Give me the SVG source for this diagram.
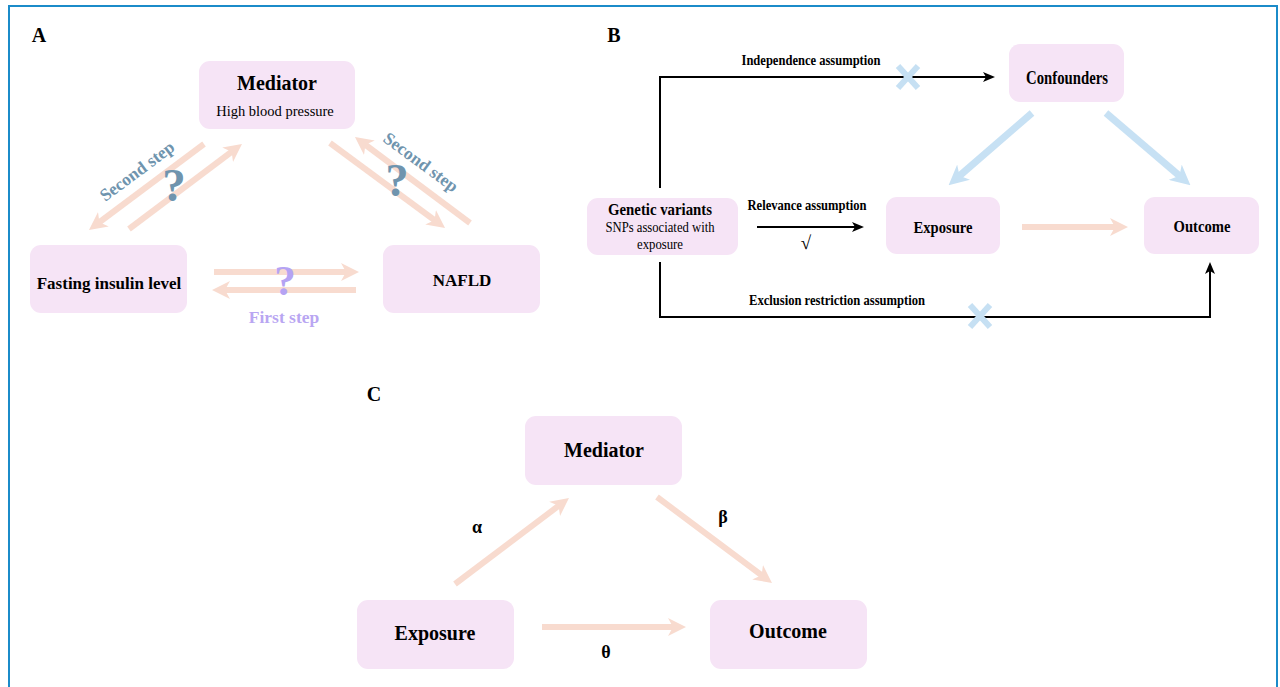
<svg xmlns="http://www.w3.org/2000/svg" width="1280" height="687" viewBox="0 0 1280 687">
<defs>
<marker id="hp" markerUnits="userSpaceOnUse" markerWidth="18" markerHeight="18" viewBox="0 0 18 18" refX="8" refY="9" orient="auto"><path d="M0,0 L18,9 L0,18 L5,9 z" fill="#f8dbcf"/></marker>
<marker id="hb" markerUnits="userSpaceOnUse" markerWidth="20" markerHeight="20" viewBox="0 0 18 18" refX="8" refY="9" orient="auto"><path d="M0,0 L18,9 L0,18 L5,9 z" fill="#c7e1f4"/></marker>
<marker id="hk" markerUnits="userSpaceOnUse" markerWidth="12" markerHeight="12" viewBox="0 0 12 12" refX="4" refY="6" orient="auto"><path d="M0,1 L12,6 L0,11 L3,6 z" fill="#000"/></marker>
<style>
.box{fill:#f6e4f6}
.t{font-family:"Liberation Serif","Times New Roman",serif;font-weight:bold;fill:#000;text-anchor:middle}
.r{font-family:"Liberation Serif","Times New Roman",serif;fill:#000;text-anchor:middle}
.pa{stroke:#f8dbcf;stroke-width:6;fill:none;marker-end:url(#hp)}
.ba{stroke:#c7e1f4;stroke-width:7;fill:none;marker-end:url(#hb)}
.ka{stroke:#000;stroke-width:2;fill:none;marker-end:url(#hk)}
.x{stroke:#c6e0f3;stroke-width:6;stroke-linecap:butt}
.q{font-family:"Liberation Serif","Times New Roman",serif;font-weight:bold;text-anchor:middle}
</style>
</defs>
<rect x="9" y="6" width="1268" height="700" fill="#fff" stroke="#1b8bc9" stroke-width="2"/>

<g id="labels">
<text class="t" x="39" y="42" font-size="20">A</text>
<text class="t" x="614" y="42" font-size="20">B</text>
<text class="t" x="374" y="401" font-size="20">C</text>
</g>

<!-- Panel A -->
<g id="a-mediator"><rect class="box" x="199" y="61" width="156" height="68" rx="11"/>
<text class="t" x="277" y="90" font-size="20">Mediator</text>
<text class="r" x="275" y="116" font-size="14.5">High blood pressure</text></g>
<g id="a-fasting"><rect class="box" x="30" y="245" width="157" height="68" rx="11"/>
<text class="t" x="109" y="289" font-size="17">Fasting insulin level</text></g>
<g id="a-nafld"><rect class="box" x="383" y="245" width="157" height="68" rx="11"/>
<text class="t" x="462" y="286" font-size="17">NAFLD</text></g>

<g id="a-connectors">
<line class="pa" x1="204" y1="144" x2="97" y2="224"/>
<line class="pa" x1="129" y1="229" x2="234" y2="150"/>
<line class="pa" x1="330" y1="143" x2="437" y2="222"/>
<line class="pa" x1="470" y1="223" x2="363" y2="143"/>
<line class="pa" x1="214" y1="272" x2="349" y2="272"/>
<line class="pa" x1="356" y1="290" x2="222" y2="290"/>
</g>
<g id="a-annotations">
<text class="q" x="137" y="177" font-size="17.5" fill="#6f94ae" transform="rotate(-36.7 137 171)">Second step</text>
<text class="q" x="421" y="168" font-size="17.5" fill="#6f94ae" transform="rotate(36.4 421 162)">Second step</text>
<text class="q" x="174" y="201" font-size="47" fill="#6f94ae">?</text>
<text class="q" x="397" y="196" font-size="46" fill="#6f94ae">?</text>
<text class="q" x="285" y="295" font-size="43" fill="#b5a3f3">?</text>
<text class="q" x="284" y="323" font-size="17.5" fill="#b9a6f2">First step</text>
</g>

<!-- Panel B -->
<g id="b-confounders"><rect class="box" x="1009" y="44" width="115" height="58" rx="11"/>
<text class="t" x="1067" y="84" font-size="18" textLength="82" lengthAdjust="spacingAndGlyphs">Confounders</text></g>
<g id="b-genetic"><rect class="box" x="587" y="198" width="151" height="57" rx="11"/>
<text class="t" x="660" y="215" font-size="17" textLength="104" lengthAdjust="spacingAndGlyphs">Genetic variants</text>
<text class="r" x="660" y="232" font-size="15" textLength="109" lengthAdjust="spacingAndGlyphs">SNPs associated with</text>
<text class="r" x="660" y="249" font-size="15" textLength="46" lengthAdjust="spacingAndGlyphs">exposure</text></g>
<g id="b-exposure"><rect class="box" x="886" y="197" width="114" height="57" rx="11"/>
<text class="t" x="943" y="233" font-size="17" textLength="59" lengthAdjust="spacingAndGlyphs">Exposure</text></g>
<g id="b-outcome"><rect class="box" x="1144" y="197" width="115" height="57" rx="11"/>
<text class="t" x="1202" y="232" font-size="17" textLength="57" lengthAdjust="spacingAndGlyphs">Outcome</text></g>

<g id="b-connectors">
<path class="ka" d="M660,188 V77 H987"/>
<path class="ka" d="M757,227 H856"/>
<path class="ka" d="M660,262 V317 H1210 V270"/>
<line class="ba" x1="1032" y1="113" x2="957" y2="178"/>
<line class="ba" x1="1106" y1="113" x2="1182" y2="178"/>
<line class="pa" x1="1022" y1="227" x2="1118" y2="227"/>
</g>
<g id="b-annotations">
<text class="t" x="811" y="65" font-size="14" textLength="139" lengthAdjust="spacingAndGlyphs">Independence assumption</text>
<text class="t" x="807" y="210" font-size="14" textLength="119" lengthAdjust="spacingAndGlyphs">Relevance assumption</text>
<text class="r" x="806" y="249" font-size="19">√</text>
<text class="t" x="837" y="305" font-size="14" textLength="176" lengthAdjust="spacingAndGlyphs">Exclusion restriction assumption</text>
<g id="x1"><line class="x" x1="898" y1="66" x2="918" y2="88"/><line class="x" x1="918" y1="66" x2="898" y2="88"/></g>
<g id="x2"><line class="x" x1="970" y1="305" x2="990" y2="327"/><line class="x" x1="990" y1="305" x2="970" y2="327"/></g>
</g>

<!-- Panel C -->
<g id="c-mediator"><rect class="box" x="525" y="416" width="157" height="69" rx="11"/>
<text class="t" x="604" y="457" font-size="20">Mediator</text></g>
<g id="c-exposure"><rect class="box" x="357" y="600" width="157" height="69" rx="11"/>
<text class="t" x="435" y="640" font-size="20">Exposure</text></g>
<g id="c-outcome"><rect class="box" x="710" y="600" width="157" height="69" rx="11"/>
<text class="t" x="788" y="638" font-size="20">Outcome</text></g>

<g id="c-connectors">
<line class="pa" x1="455" y1="584" x2="561" y2="504"/>
<line class="pa" x1="657" y1="497" x2="764" y2="577"/>
<line class="pa" x1="542" y1="627" x2="676" y2="627"/>
</g>
<g id="c-labels">
<text class="t" x="477" y="533" font-size="18">α</text>
<text class="t" x="723" y="523" font-size="18">β</text>
<text class="t" x="606" y="658" font-size="18">θ</text>
</g>
</svg>
